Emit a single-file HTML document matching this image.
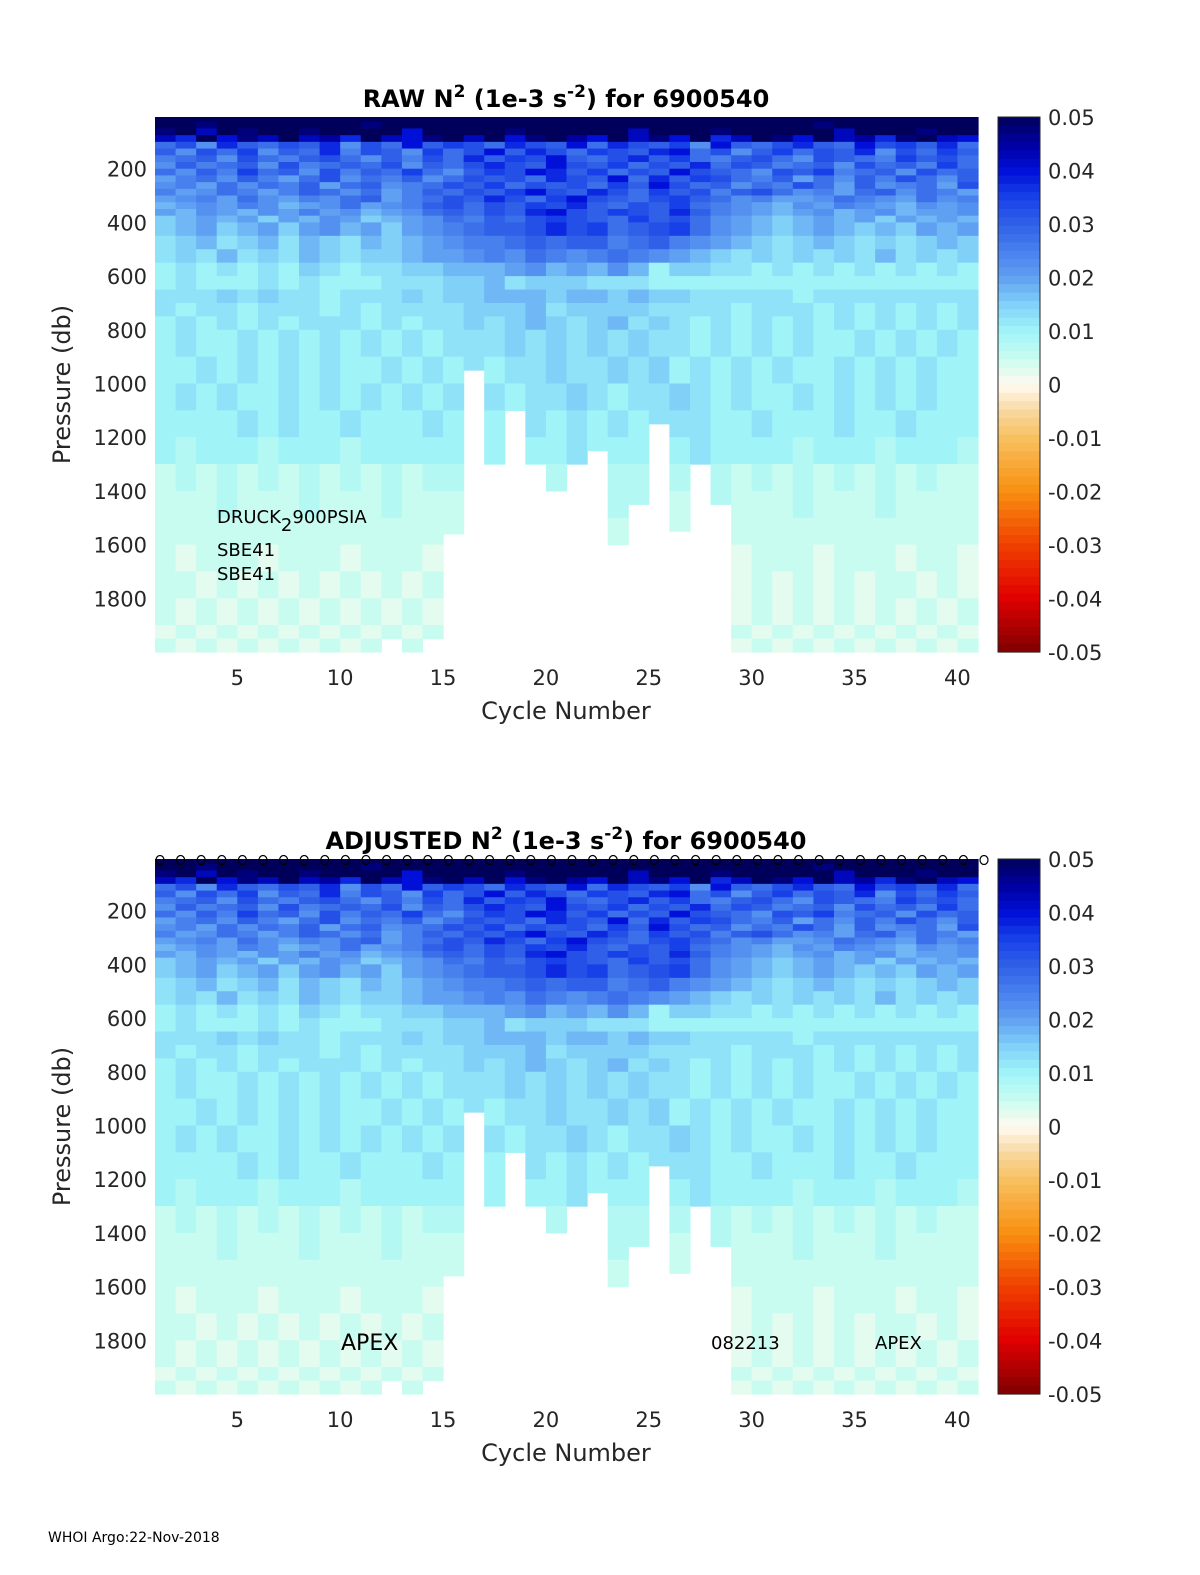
<!DOCTYPE html>
<html><head><meta charset="utf-8">
<style>
body{margin:0;background:#fff;}
svg{display:block;font-family:"DejaVu Sans","Liberation Sans",sans-serif;}
</style></head>
<body>
<svg id="fig" width="1200" height="1575" viewBox="0 0 1200 1575" xmlns="http://www.w3.org/2000/svg">
<rect width="1200" height="1575" fill="#fff"/>
<text x="48" y="1542" font-size="14" fill="#000">WHOI Argo:22-Nov-2018</text>
</svg>
<script>
const cycles = [1,2,3,4,5,6,7,8,9,10,11,12,13,14,15,16,17,18,19,20,21,22,23,24,25,26,27,28,29,30,31,32,33,34,35,36,37,38,39,40];
const maxPressure = [2000,2000,2000,2000,2000,2000,2000,2000,2000,2000,2000,1950,2000,1950,1560,950,1300,1100,1300,1400,1300,1250,1600,1450,1150,1550,1300,1450,2000,2000,2000,2000,2000,2000,2000,2000,2000,2000,2000,2000];
const depthEdges = [0,25,50,75,100,125,150,175,200,225,250,275,300,325,350,375,400,450,500,550,600,650,700,750,800,900,1000,1100,1200,1300,1400,1500,1600,1700,1800,1900,1950,2000];
const valueRows = [
"kkkkkkkkkkkkkkkkkkkkkkkkkkkkkkkkkkkkkkkk",
"kkjkkkkkkkjkkkkkkkkkkkkkkkkkkkkkjkkkkkkk",
"jkhkjkkjkkkkgkkkkjkkkkkhkkkjkkkkkhkkkjkk",
"hfkgjhkhifkhgjkhkgjkigkhjgkfhkjgkhifjkhg",
"bd9fcbdcf9dbgcedbfdcgbfdce9gcbdfcbgdecfb",
"c9dbe9cbfadc9ebdgcfdbedcfgbd9cebdcf9dbec",
"abc9dbacdb9cadbfcedgcbdfcebacdb9dcbaecdb",
"9cabc9dabcbd9cbdfdcgdcebdcfbdcabc9dbcaeb",
"b9caebc9dacbeb9cedgfcebdcgdcb9dceabc9dbc",
"8ab9ca8bd9bac9bdcdbfdcgbfcedbac8b9cadb9c",
"9a8b9bac8bc9abdcebdcdbecgdbc9badb8c9ab8d",
"a89ba8acb9b8acbdcegdcfdbecdacdb9a8bc9ba8",
"89a8b98a9bc8abdcfdbegdcbdecb9a889ba98b9a",
"7898a9789b89acdbdcedfcbdceba98798a987989",
"8798798a89789bcbdcfgdcedcfca987897897889",
"67878687986789bacbdedcbecdb98767878 68787".replace(' ',''),
"6786786897868 9abccdfdebcdeb9876787676878".replace(' ',''),
"5675675765767 89aabcbccabca987656765 65676".replace(/ /g,''),
"5657565765667889a9ba9aba98765656565 75656".replace(/ /g,''),
"4545454654556677789787974665545454 54545".replace(/ /g,''),
"4544454544455566756665554444444444444444",
"5556565545556566777677676655555455555555",
"5455455545455556667566665555455545454545",
"4545454555454556567656756545454545454545",
"4544545454545455565656565545454544545454",
"4454545454454545455655656454545445454544",
"4545445454545454545565455654544545454544",
"4444545445444545445454545554454445445444",
"4344434443444444454454444454444344434443",
"2323232323232333333333333333232323232322",
"2223222322232223322232333223222322232222",
"2222222222222222222223232222222222222222",
"2122212221222122222222222222122212221221",
"2212121212121222222222222222121212122121",
"2121212121212121222222222222121212121212",
"1212121212121212222222222222212121212121",
"2121212121212121222222222222121212121212"
];
const xTicks = [5,10,15,20,25,30,35,40];
const yTicks = [200,400,600,800,1000,1200,1400,1600,1800];
const cbTicks = [0.05,0.04,0.03,0.02,0.01,0,-0.01,-0.02,-0.03,-0.04,-0.05];

const NS="http://www.w3.org/2000/svg";
const svg=document.getElementById('fig');
function mk(tag,attrs,parent){const e=document.createElementNS(NS,tag);for(const k in attrs)e.setAttribute(k,attrs[k]);(parent||svg).appendChild(e);return e;}
const stops=[[0.05,[0,0,90]],[0.045,[0,0,160]],[0.04,[0,16,216]],[0.035,[24,64,232]],[0.03,[48,96,232]],[0.025,[72,128,238]],[0.02,[96,160,242]],[0.015,[128,208,248]],[0.01,[160,244,248]],[0.005,[200,252,240]],[0,[255,250,240]],[-0.005,[248,216,160]],[-0.01,[248,192,96]],[-0.02,[248,144,16]],[-0.03,[240,64,0]],[-0.04,[224,0,0]],[-0.05,[128,0,0]]];
function cmap(v){v=Math.max(-0.05,Math.min(0.05,v));for(let i=0;i<stops.length-1;i++){const a=stops[i],b=stops[i+1];if(v<=a[0]&&v>=b[0]){const t=(a[0]-v)/(a[0]-b[0]);const c=a[1].map((x,j)=>Math.round(x+(b[1][j]-x)*t));return `rgb(${c[0]},${c[1]},${c[2]})`;}}return '#fff';}
function decode(ch){return parseInt(ch,36)*0.0025;}

const X0=155,X1=978;
const xs=c=>X0+(c-1)*(X1-X0)/40;
function panel(top,title,name){
  const bot=top+535;
  const ys=p=>top-2+(p)*(bot-top+2)/2000;
  const g=mk('g',{});
  
  
  for(let r=0;r<valueRows.length;r++){
    const row=valueRows[r];
    for(let i=0;i<cycles.length;i++){
      const d0=depthEdges[r],d1=Math.min(depthEdges[r+1],maxPressure[i]);
      if(d1<=d0)continue;
      const ch=row[i]||row[0];
      const y0=Math.max(top,ys(d0)),y1=Math.min(bot,ys(d1));
      const rc=mk('rect',{x:xs(cycles[i]).toFixed(2),y:y0.toFixed(2),width:((X1-X0)/40+0.6).toFixed(2),height:(y1-y0+0.6).toFixed(2),fill:cmap(decode(ch))},g);
      
      
    }
  }
  for(const t of xTicks){
    const tx=mk('text',{x:xs(t),y:bot+33,'font-size':21,'text-anchor':'middle',fill:'#262626'});
    tx.textContent=t;
    
    
  }
  for(const t of yTicks){
    const ty=mk('text',{x:147,y:ys(t)+8,'font-size':21,'text-anchor':'end',fill:'#262626'});
    ty.textContent=t;
    
    
  }
  const xl=mk('text',{x:566,y:bot+67,'font-size':24,'text-anchor':'middle',fill:'#262626'});
  xl.textContent='Cycle Number';
  
  
  const yl=mk('text',{x:0,y:0,'font-size':24,'text-anchor':'middle',fill:'#262626',transform:`translate(70,${(top+bot)/2}) rotate(-90)`});
  yl.textContent='Pressure (db)';
  
  
  const tt=mk('text',{x:566,y:top-10,'font-size':24,'font-weight':'bold','text-anchor':'middle',fill:'#000'});
  tt.innerHTML=title+' N<tspan dy="-10" font-size="17">2</tspan><tspan dy="10"> (1e-3 s</tspan><tspan dy="-10" font-size="17">-2</tspan><tspan dy="10">) for 6900540</tspan>';
  
  
  const cbx=998,cbw=42,N=64;
  for(let k=0;k<N;k++){
    const v=0.05-(k+0.5)*0.1/N;
    const s=mk('rect',{x:cbx,y:(top+k*(bot-top)/N).toFixed(2),width:cbw,height:((bot-top)/N+0.6).toFixed(2),fill:cmap(v)});
    
    
  }
  const cbr=mk('rect',{x:cbx,y:top,width:cbw,height:bot-top,fill:'none',stroke:'#262626','stroke-width':1});
  
  
  for(const t of cbTicks){
    const y=top+(0.05-t)/0.1*(bot-top);
    const ct=mk('text',{x:1048,y:y+8,'font-size':21,fill:'#262626'});
    ct.textContent=t;
    
    
  }
}
panel(117,'RAW','raw-panel');
panel(859,'ADJUSTED','adjusted-panel');

function note(x,y,size,txt,name){const t=mk('text',{x:x,y:y,'font-size':size,fill:'#000'});t.innerHTML=txt;}
note(217,523,18,'DRUCK<tspan dy="8">2</tspan><tspan dy="-8">900PSIA</tspan>','sensor-note');
note(217,556,18,'SBE41','sensor-note');
note(217,580,18,'SBE41','sensor-note');
note(341,1350,22,'APEX','platform-note');
note(711,1349,18,'082213','serial-note');
note(875,1349,18,'APEX','platform-note');
for(let i=0;i<=40;i++){
  const m=mk('ellipse',{cx:160+i*20.6,cy:860,rx:4,ry:4.5,fill:'none',stroke:'#000','stroke-width':1.2});
  
  
}
</script>
</body></html>
